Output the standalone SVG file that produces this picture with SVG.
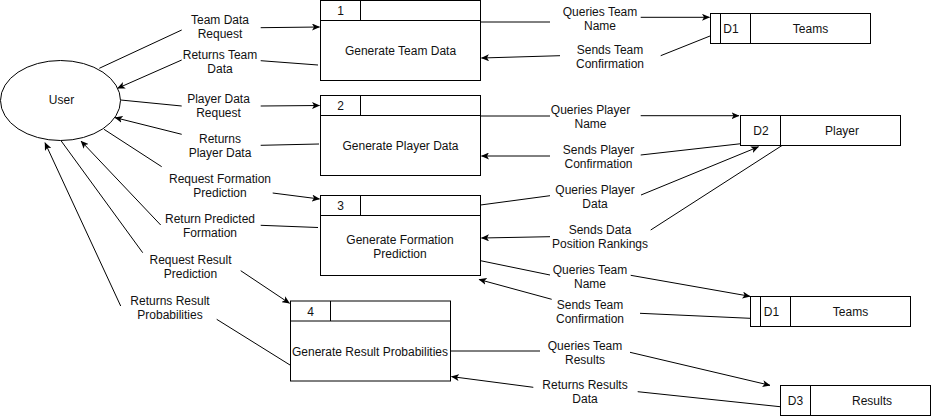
<svg xmlns="http://www.w3.org/2000/svg" width="931" height="416" viewBox="0 0 931 416">
<defs>
<style>
text{font-family:"Liberation Sans",Arial,sans-serif;font-size:12px;fill:#111;text-anchor:middle}
.box{fill:#fff;stroke:#000;stroke-width:1}
.ln{fill:none;stroke:#000;stroke-width:1}
.edge{fill:none;stroke:#000;stroke-width:1;marker-end:url(#arr)}
</style>
<marker id="arr" viewBox="0 0 8 7" refX="7.5" refY="3.5" markerWidth="8" markerHeight="7" markerUnits="userSpaceOnUse" orient="auto">
<path d="M0,0 L8,3.5 L0,7 L2,3.5 Z" fill="#000"/>
</marker>
</defs>
<rect width="931" height="416" fill="#fff"/>

<g id="connectors">
<path class="edge" d="M99.3,68.3 L181.7,30 M260.7,27.7 L319.5,27"/>
<path class="edge" d="M318,65 L260.7,60.7 M181.7,60 L117.5,88.3"/>
<path class="edge" d="M120.7,100 L181.7,106 M260.7,106 L319.5,105.5"/>
<path class="edge" d="M319,144 L260.7,145.3 M181.7,134.3 L115,117.6"/>
<path class="edge" d="M104,129.3 L161.7,166.7 M272.7,193 L319.5,199"/>
<path class="edge" d="M318,227.5 L260.7,225.3 M160.7,225 L81,141"/>
<path class="edge" d="M61,140.7 L142.7,252.7 M240.7,270.7 L289.5,303.3"/>
<path class="edge" d="M290,365 L216.7,319.3 M120.7,306 L45,142.7"/>
<path class="edge" d="M480.5,22 L550,22 M640.7,17.3 L709.5,17.3"/>
<path class="edge" d="M710,36 L660.7,55.7 M560,55.7 L481.5,58"/>
<path class="edge" d="M480.5,116 L550,116 M640.7,115.7 L739,115.7"/>
<path class="edge" d="M740,143.8 L640.7,155 M550,156 L481.5,156"/>
<path class="edge" d="M480.5,205 L550,195.7 M641,195 L758.5,146.8"/>
<path class="edge" d="M782,145.5 L650.7,230 M550,236.7 L481.5,238"/>
<path class="edge" d="M480.5,260.7 L550,275 M630.7,275.3 L750,296.3"/>
<path class="edge" d="M750,318.3 L640,313.3 M551.7,299.3 L479,279.5"/>
<path class="edge" d="M451,351 L540,351 M630,352.3 L770,385.3"/>
<path class="edge" d="M780,406.7 L637.7,391.7 M533.3,387.3 L451.5,376.6"/>

<text x="220" y="24">Team Data</text><text x="220" y="38">Request</text>
<text x="220" y="59">Returns Team</text><text x="220" y="73">Data</text>
<text x="218.5" y="103.3">Player Data</text><text x="218.5" y="117.3">Request</text>
<text x="220" y="143.3">Returns</text><text x="220" y="157.3">Player Data</text>
<text x="220" y="183.3">Request Formation</text><text x="220" y="197.3">Prediction</text>
<text x="210" y="223.3">Return Predicted</text><text x="210" y="237.3">Formation</text>
<text x="190.5" y="264">Request Result</text><text x="190.5" y="278">Prediction</text>
<text x="170" y="305">Returns Result</text><text x="170" y="319">Probabilities</text>
<text x="600" y="15.7">Queries Team</text><text x="600" y="29.5">Name</text>
<text x="610" y="53.5">Sends Team</text><text x="610" y="67.5">Confirmation</text>
<text x="590.5" y="113.5">Queries Player</text><text x="590.5" y="127.5">Name</text>
<text x="598.5" y="154">Sends Player</text><text x="598.5" y="168">Confirmation</text>
<text x="595" y="194">Queries Player</text><text x="595" y="208">Data</text>
<text x="600" y="234">Sends Data</text><text x="600" y="248">Position Rankings</text>
<text x="590" y="274">Queries Team</text><text x="590" y="288">Name</text>
<text x="590" y="308.5">Sends Team</text><text x="590" y="322.5">Confirmation</text>
<text x="585" y="350">Queries Team</text><text x="585" y="364">Results</text>
<text x="585" y="389">Returns Results</text><text x="585" y="403">Data</text>
</g>

<g id="user">
<ellipse class="box" cx="60.5" cy="100.5" rx="60" ry="40"/>
<text x="61.5" y="104.3">User</text>
</g>

<g id="process1">
<rect class="box" x="320.5" y="0.5" width="160" height="80"/>
<path class="ln" d="M320.5,20.5 H480.5 M360.5,0.5 V20.5"/>
<text x="340.5" y="15">1</text>
<text x="400.5" y="55">Generate Team Data</text>
</g>

<g id="process2">
<rect class="box" x="320.5" y="95.5" width="160" height="80"/>
<path class="ln" d="M320.5,115.5 H480.5 M360.5,95.5 V115.5"/>
<text x="340.5" y="110">2</text>
<text x="400.5" y="149.5">Generate Player Data</text>
</g>

<g id="process3">
<rect class="box" x="320.5" y="195.5" width="160" height="80"/>
<path class="ln" d="M320.5,215.5 H480.5 M360.5,195.5 V215.5"/>
<text x="340.5" y="210">3</text>
<text x="400" y="244">Generate Formation</text>
<text x="400" y="258">Prediction</text>
</g>

<g id="process4">
<rect class="box" x="290.5" y="301" width="160" height="80"/>
<path class="ln" d="M290.5,321 H450.5 M330.5,301 V321"/>
<text x="310.5" y="315.7">4</text>
<text x="370" y="355.7">Generate Result Probabilities</text>
</g>

<g id="store-d1-teams-top">
<rect class="box" x="710.5" y="13.5" width="160" height="30"/>
<path class="ln" d="M720.5,13.5 V43.5 M750.5,13.5 V43.5"/>
<text x="731" y="32.5">D1</text>
<text x="810.5" y="32.5">Teams</text>
</g>

<g id="store-d2-player">
<rect class="box" x="740.5" y="115.5" width="160" height="30"/>
<path class="ln" d="M780.5,115.5 V145.5"/>
<text x="761" y="134.5">D2</text>
<text x="842" y="134.5">Player</text>
</g>

<g id="store-d1-teams-bottom">
<rect class="box" x="750.5" y="296.5" width="160" height="30"/>
<path class="ln" d="M760.5,296.5 V326.5 M790.5,296.5 V326.5"/>
<text x="771.5" y="315.5">D1</text>
<text x="850.5" y="315.5">Teams</text>
</g>

<g id="store-d3-results">
<rect class="box" x="780.5" y="385.5" width="150" height="30"/>
<path class="ln" d="M810.5,385.5 V415.5"/>
<text x="795.5" y="404.5">D3</text>
<text x="872" y="404.5">Results</text>
</g>
</svg>
